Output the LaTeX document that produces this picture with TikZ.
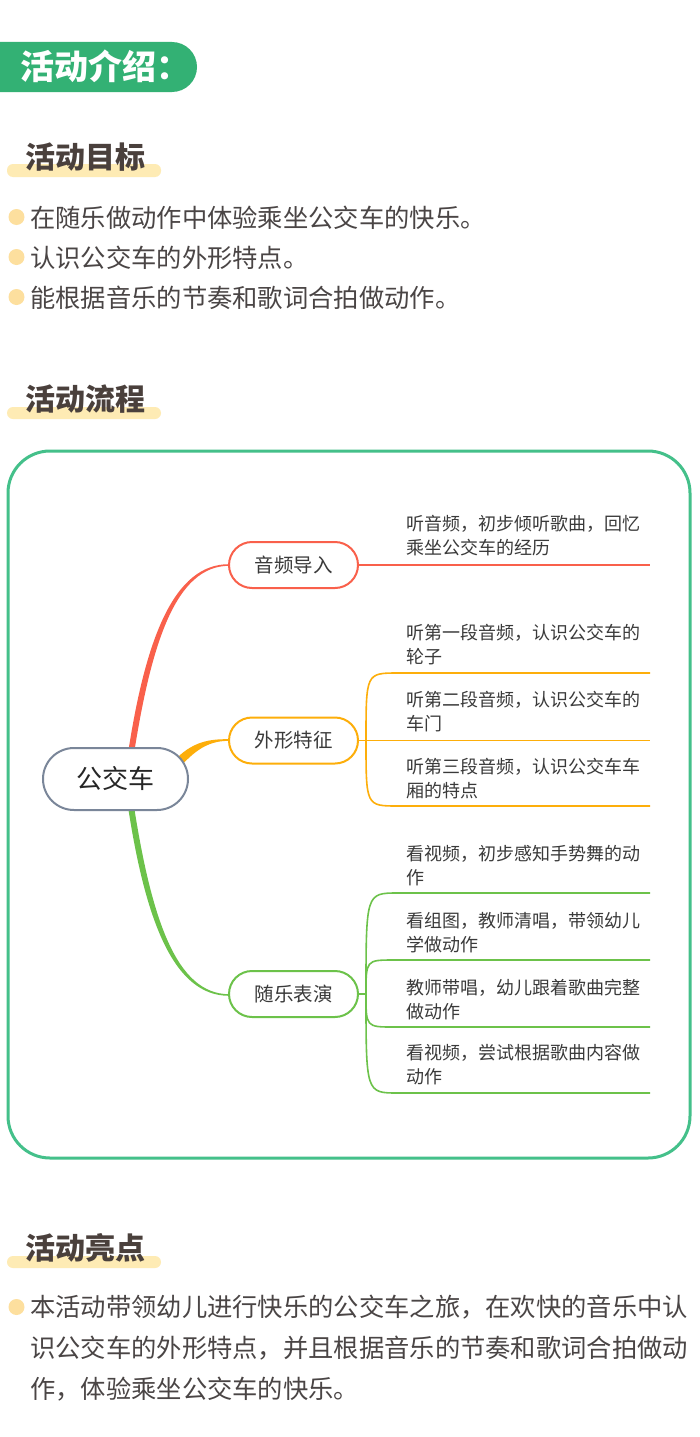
\documentclass[tikz,border=0pt]{standalone}
\usepackage{fontspec}
\newfontfamily\cjk{Noto Sans CJK SC}
\definecolor{titlegreen}{HTML}{33B174}
\definecolor{framegreen}{HTML}{44C08A}
\definecolor{headtext}{HTML}{4A403C}
\definecolor{hlyellow}{HTML}{FEEBB4}
\definecolor{dotyellow}{HTML}{FDDF9E}
\definecolor{bodytext}{HTML}{4A4545}
\definecolor{leaftext}{HTML}{3A3A3A}
\definecolor{redb}{HTML}{F9604B}
\definecolor{orangeb}{HTML}{FDAE0A}
\definecolor{greenb}{HTML}{6CC24A}
\definecolor{centerb}{HTML}{7A8699}
\tikzset{
  headbar/.style={fill=hlyellow, rounded corners=6pt},
  headtxt/.style={anchor=base west, inner sep=0pt, text=headtext, font={\cjk\bfseries\fontsize{30}{36}\selectfont}},
  dotmark/.style={fill=dotyellow},
  bodytxt/.style={anchor=base west, inner sep=0pt, text=bodytext, align=left, font={\cjk\fontsize{25.3}{41}\selectfont}},
  leaftxt/.style={anchor=base west, inner sep=0pt, text=leaftext, align=left, font={\cjk\fontsize{18}{24}\selectfont}},
  branchnode/.style={draw, line width=2pt, fill=white, rounded corners=23pt, minimum width=129pt, minimum height=46pt, inner sep=0pt, text=leaftext, font={\cjk\fontsize{19.5}{22}\selectfont}},
  centernode/.style={draw=centerb, line width=2pt, fill=white, rounded corners=31pt, minimum width=145pt, minimum height=62pt, inner sep=0pt, text=black!85, font={\cjk\fontsize{26}{30}\selectfont}},
  leafline/.style={line width=1.6pt},
}
\begin{document}
\begin{tikzpicture}[x=1pt,y=-1pt]
\useasboundingbox (0,0) rectangle (700,1437);
\fill[white] (0,0) rectangle (700,1437);
% title
\fill[titlegreen, rounded corners=25pt] (-40,42) rectangle (197,92);
\node[anchor=base west, inner sep=0pt, text=white, font={\cjk\bfseries\fontsize{34}{40}\selectfont}] (title) at (20,80) {活动介绍：};
% heading 1
\fill[headbar] (7,164) rectangle (161,177);
\node[headtxt] (h1) at (25,168) {活动目标};
\fill[dotmark] (16.5,217) circle (8);
\fill[dotmark] (16.5,257) circle (8);
\fill[dotmark] (16.5,297) circle (8);
\node[bodytxt] (g1) at (30,227) {在随乐做动作中体验乘坐公交车的快乐。};
\node[bodytxt] (g2) at (30,267) {认识公交车的外形特点。};
\node[bodytxt] (g3) at (30,307) {能根据音乐的节奏和歌词合拍做动作。};
% heading 2
\fill[headbar] (7,407) rectangle (161,419);
\node[headtxt] (h2) at (25,410) {活动流程};
% frame
\draw[framegreen, line width=3pt, rounded corners=42pt] (8,451) rectangle (690,1158);
% main tapered branches
\fill[redb] (127,760) .. controls (145,638) and (174,564) .. (229,564.2) -- (229,565.8) .. controls (176,566) and (151,642) .. (133,760) -- cycle;
\fill[orangeb] (173,762) .. controls (192,741) and (210,739) .. (229,739.2) -- (229,740.8) .. controls (211,741) and (198,747) .. (180,767) -- cycle;
\fill[greenb] (127,800) .. controls (145,922) and (174,995.8) .. (229,995.8) -- (229,994.2) .. controls (176,994) and (151,918) .. (133,800) -- cycle;
% nodes
\node[centernode] (c) at (115.5,779) {公交车};
\node[branchnode, draw=redb] (b1) at (293.5,565) {音频导入};
\node[branchnode, draw=orangeb] (b2) at (293.5,740.5) {外形特征};
\node[branchnode, draw=greenb] (b3) at (293.5,994) {随乐表演};
% leaves of b1
\coordinate (e1) at (650,565);
\draw[redb, leafline] (b1.east) -- (e1);
\node[leaftxt] (t1) at (406,554) {听音频，初步倾听歌曲，回忆\\乘坐公交车的经历};
% leaves of b2
\coordinate (j2) at (366,740.5);
\coordinate (e21) at (650,673);
\coordinate (e22) at (650,740.5);
\coordinate (e23) at (650,806);
\draw[orangeb, leafline] (b2.east) -- (e22);
\draw[orangeb, leafline] (j2) .. controls (366,673) .. (398,673) -- (e21);
\draw[orangeb, leafline] (j2) .. controls (366,806) .. (398,806) -- (e23);
\node[leaftxt] (t21) at (406,663) {听第一段音频，认识公交车的\\轮子};
\node[leaftxt] (t22) at (406,730) {听第二段音频，认识公交车的\\车门};
\node[leaftxt] (t23) at (406,797) {听第三段音频，认识公交车车\\厢的特点};
% leaves of b3
\coordinate (j3) at (366,994);
\coordinate (e31) at (650,893);
\coordinate (e32) at (650,960);
\coordinate (e33) at (650,1027);
\coordinate (e34) at (650,1093);
\draw[greenb, leafline] (b3.east) -- (j3);
\draw[greenb, leafline] (j3) .. controls (366,893) .. (398,893) -- (e31);
\draw[greenb, leafline] (j3) .. controls (366,960) .. (394,960) -- (e32);
\draw[greenb, leafline] (j3) .. controls (366,1027) .. (394,1027) -- (e33);
\draw[greenb, leafline] (j3) .. controls (366,1093) .. (398,1093) -- (e34);
\node[leaftxt] (t31) at (406,884) {看视频，初步感知手势舞的动\\作};
\node[leaftxt] (t32) at (406,951) {看组图，教师清唱，带领幼儿\\学做动作};
\node[leaftxt] (t33) at (406,1018) {教师带唱，幼儿跟着歌曲完整\\做动作};
\node[leaftxt] (t34) at (406,1083) {看视频，尝试根据歌曲内容做\\动作};
% heading 3
\fill[headbar] (7,1256) rectangle (161,1268);
\node[headtxt] (h3) at (25,1259) {活动亮点};
\fill[dotmark] (16.5,1307) circle (8);
\node[bodytxt] (p) at (30,1398.5) {本活动带领幼儿进行快乐的公交车之旅，在欢快的音乐中认\\识公交车的外形特点，并且根据音乐的节奏和歌词合拍做动\\作，体验乘坐公交车的快乐。};
\end{tikzpicture}
\end{document}
